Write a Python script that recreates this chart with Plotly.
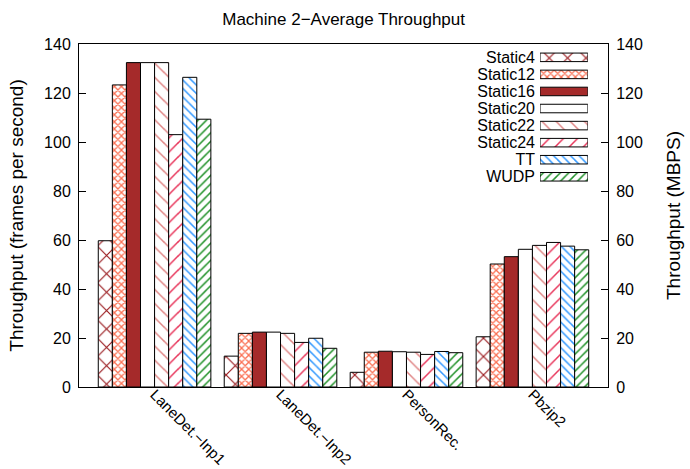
import plotly.graph_objects as go

categories = ["LaneDet.\u2212Inp1", "LaneDet.\u2212Inp2", "PersonRec.", "Pbzip2"]
series_names = ["Static4", "Static12", "Static16", "Static20", "Static22", "Static24", "TT", "WUDP"]

static4 = [59.7, 12.6, 6.0, 20.5]
static12 = [123.3, 21.9, 14.2, 50.2]
static16 = [132.4, 22.4, 14.6, 53.2]
static20 = [132.4, 22.4, 14.4, 56.2]
static22 = [132.4, 21.9, 14.2, 57.8]
static24 = [103.0, 18.2, 13.3, 59.0]
tt = [126.4, 19.9, 14.5, 57.5]
wudp = [109.3, 15.8, 14.0, 56.0]
series_values = [static4, static12, static16, static20, static22, static24, tt, wudp]

y_ticks = [0, 20, 40, 60, 80, 100, 120, 140]

# styles
fill_colors = ["white", "white", "#A52A2A", "white", "white", "white", "white", "white"]
pat_shapes = ["x", "x", "", "", "\\", "/", "\\", "/"]
pat_colors = ["#9A1A1E", "#FA6F52", "#A52A2A", "black", "#E08585", "#E8345A", "#3399FF", "#22922A"]
pat_sizes = [13, 5, 8, 8, 10, 10, 6, 6]
pat_solid = [0.17, 0.45, 0.3, 0.3, 0.15, 0.15, 0.25, 0.25]

FONT = "Liberation Sans, Arial, Helvetica, sans-serif"

fig = go.Figure()
for i, name in enumerate(series_names):
    fig.add_trace(go.Bar(
        x=categories, y=series_values[i], name=name, showlegend=False,
        marker=dict(color=fill_colors[i], line=dict(color="black", width=1),
                    pattern=dict(shape=pat_shapes[i], fgcolor=pat_colors[i], bgcolor=fill_colors[i],
                                 size=pat_sizes[i], solidity=pat_solid[i], fillmode="replace",
                                 fgopacity=1)),
        xaxis="x", yaxis="y",
    ))

# legend drawn as a small bar chart (key samples), one bar per series
for i, name in enumerate(series_names):
    fig.add_trace(go.Bar(
        y=[name], x=[1], orientation="h", width=0.5, offset=-0.25,
        showlegend=False, hoverinfo="skip",
        marker=dict(color=fill_colors[i], line=dict(color="black", width=1),
                    pattern=dict(shape=pat_shapes[i], fgcolor=pat_colors[i], bgcolor=fill_colors[i],
                                 size=pat_sizes[i], solidity=pat_solid[i], fillmode="replace",
                                 fgopacity=1)),
        xaxis="x3", yaxis="y3",
    ))

axis_common = dict(showgrid=False, zeroline=False, showline=True, linecolor="black", linewidth=1,
                   automargin=False)

fig.update_layout(
    width=690, height=469,
    margin=dict(l=79, r=82, t=44, b=82, autoexpand=False),
    paper_bgcolor="white", plot_bgcolor="white",
    font=dict(family=FONT, size=16, color="black"),
    barmode="group", bargap=0.106, bargroupgap=0,
    title=dict(text="Machine 2\u2212Average Throughput", x=0.498, xanchor="center",
               y=1 - 19 / 469, yanchor="middle", font=dict(size=17)),
    xaxis=dict(**axis_common, mirror=True, range=[-0.6, 3.6], ticks="", tickangle=45,
               tickfont=dict(size=15), ticklabelstandoff=-8),
    yaxis=dict(**axis_common, range=[0, 140], tickvals=y_ticks, ticks="inside", ticklen=7,
               tickcolor="black", title=dict(text="Throughput (frames per second)"),
               ticklabelstandoff=4),
    yaxis2=dict(**axis_common, range=[0, 140], tickvals=y_ticks, ticks="inside", ticklen=7,
                tickcolor="black", overlaying="y", side="right", anchor="x",
                title=dict(text="Throughput (MBPS)", standoff=24), ticklabelstandoff=4),
    xaxis3=dict(domain=[0.8715, 0.962], anchor="y3", range=[0, 1], visible=False),
    yaxis3=dict(domain=[0.588, 0.986], anchor="x3", type="category", autorange="reversed",
                tickvals=series_names, range=[7.5, -0.5],
                showline=False, showgrid=False, zeroline=False, ticks="", automargin=False,
                ticklabelstandoff=4, tickfont=dict(size=16)),
)

# invisible trace so the right axis is drawn
fig.add_trace(go.Scatter(x=[categories[0]], y=[0], yaxis="y2", xaxis="x", mode="markers",
                         marker=dict(opacity=0), showlegend=False, hoverinfo="skip"))

fig.write_html("out.html", config={"displayModeBar": False},
               post_script="document.body.style.margin='0';document.body.style.padding='0';")
